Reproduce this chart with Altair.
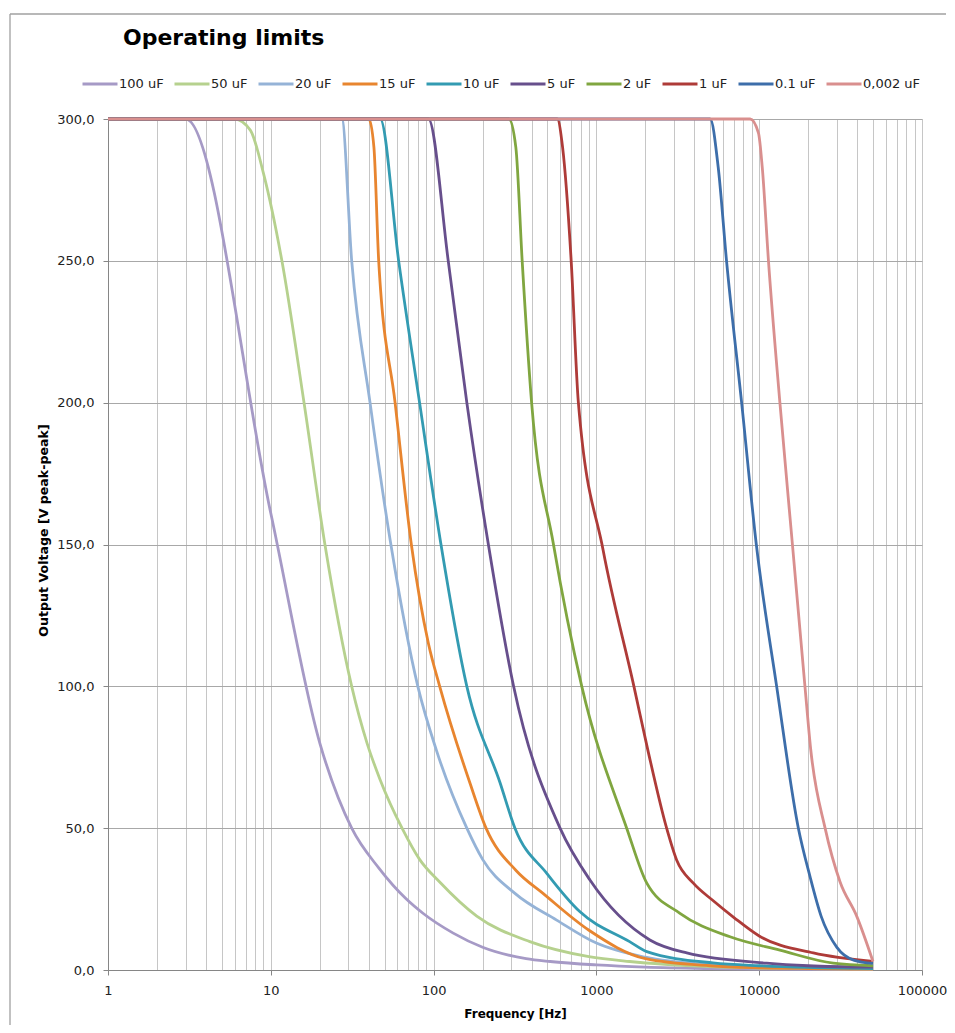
import altair as alt
import pandas as pd

series = ["100 uF", "50 uF", "20 uF", "15 uF", "10 uF", "5 uF", "2 uF", "1 uF", "0.1 uF", "0,002 uF"]
colors = ["#A69AC6", "#B6D18E", "#95B3D7", "#E8852F", "#339BB2", "#674F8C", "#80A640", "#AE3B38", "#3D6EAA", "#D98F8E"]

f_100 = [1, 2, 3, 10, 20, 31.4, 46, 68, 86, 132, 200, 370, 520, 1000, 2000, 5000, 10000, 20000, 50000]
v_100 = [300, 300, 300, 161, 80, 50, 36, 25, 20, 13, 8, 4, 3, 1.8, 1.0, 0.5, 0.3, 0.2, 0.15]

f_50 = [1, 4, 6, 7.5, 9, 11.7, 16, 21.5, 31.4, 39, 47, 64, 82, 109, 184, 390, 900, 1600, 5000, 10000, 20000, 50000]
v_50 = [300, 300, 300, 296, 281, 250, 200, 150, 100, 80, 67, 50, 39, 31, 19, 10, 4.7, 3, 1.2, 0.7, 0.5, 0.3]

f_20 = [1, 27.3, 31.4, 40.7, 55, 80, 104, 160, 200, 316, 570, 1000, 2000, 5000, 10000, 20000, 50000]
v_20 = [300, 300, 250, 200, 149, 100, 77.5, 50, 39, 27, 17.6, 9.5, 4.5, 1.8, 0.9, 0.5, 0.3]

f_15 = [1, 40, 43, 46, 58, 73, 93, 109, 167, 210, 322, 470, 900, 2000, 5000, 10000, 20000, 50000]
v_15 = [300, 300, 290, 250, 200, 150, 115, 100, 66, 50, 35, 27, 14, 4, 1.5, 0.8, 0.5, 0.3]

f_10 = [1, 47, 61, 82, 111, 160, 256, 316, 497, 790, 1600, 2040, 5200, 10000, 20000, 50000]
v_10 = [300, 300, 250, 200, 150, 100, 66, 50, 34, 20.6, 10, 6.5, 2.5, 1.5, 0.9, 0.5]

f_5 = [1, 93, 123, 160, 217, 310, 598, 913, 2130, 3590, 11100, 20000, 50000]
v_5 = [300, 300, 250, 200, 150, 100, 50, 31.7, 10.6, 6, 2.4, 1.5, 1.0]

f_2 = [1, 290, 320, 350, 400, 545, 813, 1535, 2040, 3260, 6620, 13400, 28500, 50000]
v_2 = [300, 300, 290, 250, 200, 150, 100, 50, 30.6, 20, 11.7, 7, 2.4, 1.5]

f_1 = [1, 575, 620, 700, 775, 1100, 1700, 2080, 2700, 3110, 3940, 5200, 7000, 10000, 21500, 50000]
v_1 = [300, 300, 290, 250, 200, 148, 100, 77, 50, 38.8, 30.6, 24.5, 18.5, 12, 6, 3]

f_01 = [1, 5000, 5600, 6300, 7800, 9600, 12800, 17400, 20500, 24000, 30000, 38000, 50000]
v_01 = [300, 300, 283, 250, 200, 150, 100, 50, 33, 19, 8, 3.5, 2.3]

f_0002 = [1, 8800, 9900, 10440, 11400, 13400, 16000, 19100, 20700, 25400, 31400, 39700, 50000]
v_0002 = [300, 300, 295, 283, 250, 200, 150, 100, 78, 50, 31, 19, 3]

y_ticks = [0, 50, 100, 150, 200, 250, 300]
x_decades = [1, 10, 100, 1000, 10000, 100000]

freqs = [f_100, f_50, f_20, f_15, f_10, f_5, f_2, f_1, f_01, f_0002]
volts = [v_100, v_50, v_20, v_15, v_10, v_5, v_2, v_1, v_01, v_0002]

rows = []
for i, (name, fs, vs) in enumerate(zip(series, freqs, volts)):
    for j, (f, v) in enumerate(zip(fs, vs)):
        rows.append({"series": name, "k": i, "idx": j, "f": f, "v": v})
df = pd.DataFrame(rows)

x_minor = [m * 10 ** e for e in range(0, 5) for m in range(1, 10)] + [100000]
dec_list = "[" + ",".join(str(d) for d in x_decades) + "]"
dec_test = "indexof(" + dec_list + ", datum.value) >= 0"

FONT = "DejaVu Sans"

x_axis = alt.Axis(
    values=x_minor,
    grid=True,
    gridColor="#C6C6C6",
    gridWidth=1,
    domainColor="#868686",
    domainWidth=1,
    tickColor="#868686",
    tickSize=5,
    tickOpacity={"condition": {"test": dec_test, "value": 1}, "value": 0},
    labelExpr=dec_test + " ? format(datum.value, 'd') : ''",
    labelFont=FONT,
    labelFontSize=13,
    labelColor="#222222",
    labelPadding=9,
    labelFlush=False,
    labelOverlap=False,
    title="Frequency [Hz]",
    titleFont=FONT,
    titleFontSize=12,
    titleFontWeight="bold",
    titleColor="#000000",
    titleY=43,
    titleBaseline="middle",
)

y_axis = alt.Axis(
    values=y_ticks,
    grid=True,
    gridColor="#A8A8A8",
    gridWidth=1,
    domainColor="#868686",
    tickColor="#868686",
    tickSize=5,
    labelExpr="replace(format(datum.value, '.1f'), '.', ',')",
    labelFont=FONT,
    labelFontSize=13,
    labelColor="#222222",
    labelPadding=9,
    labelFlush=False,
    title="Output Voltage [V peak-peak]",
    titleFont=FONT,
    titleFontSize=12.6,
    titleFontWeight="bold",
    titleColor="#000000",
    titleX=-65,
    titleY=411,
    titleAngle=270,
    titleBaseline="middle",
    titleAlign="center",
)

legend = alt.Legend(
    orient="none",
    legendX=-27,
    legendY=-54,
    direction="horizontal",
    columns=10,
    symbolType="stroke",
    symbolSize=1225,
    symbolStrokeWidth=3,
    labelFont=FONT,
    labelFontSize=13,
    labelColor="#222222",
    labelOffset=0,
    columnPadding=4,
    title=None,
)

lines = alt.Chart(df).mark_line(strokeWidth=2.8, interpolate="monotone").encode(
    x=alt.X("f:Q", scale=alt.Scale(type="log", domain=[1, 100000], nice=False), axis=x_axis),
    y=alt.Y("v:Q", scale=alt.Scale(domain=[0, 300], nice=False), axis=y_axis),
    color=alt.Color("series:N", scale=alt.Scale(domain=series, range=colors), legend=legend, sort=series),
    order=alt.Order("idx:Q"),
    detail="k:N",
)

frame_df = pd.DataFrame({"a": [0]})
frame_left = alt.Chart(frame_df).mark_rule(stroke="#A0A0A0", strokeWidth=1.3).encode(
    x=alt.value(-98), x2=alt.value(-98), y=alt.value(-105), y2=alt.value(910)
)
frame_top = alt.Chart(frame_df).mark_rule(stroke="#A0A0A0", strokeWidth=1.3).encode(
    x=alt.value(-98), x2=alt.value(838), y=alt.value(-105), y2=alt.value(-105)
)

chart = alt.layer(frame_left, frame_top, lines).properties(
    width=814,
    height=851,
    padding={"left": 100, "top": 111, "right": 25, "bottom": 55},
    autosize=alt.AutoSizeParams(type="none"),
    title=alt.TitleParams(
        "Operating limits",
        anchor="start",
        frame="group",
        dx=15,
        dy=54,
        offset=0,
        baseline="alphabetic",
        font=FONT,
        fontSize=22,
        fontWeight="bold",
        color="#000000",
    ),
).configure_view(stroke=None).configure(background="white")

chart.save("out.html", embed_options={"renderer": "svg", "actions": False})
